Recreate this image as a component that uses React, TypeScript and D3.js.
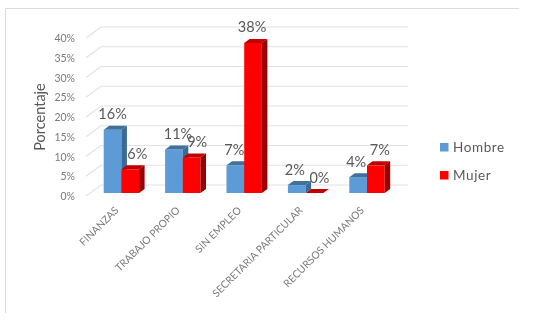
import React from 'react';
import * as d3 from 'd3';

const categories = ['FINANZAS', 'TRABAJO PROPIO', 'SIN EMPLEO', 'SECRETARIA PARTICULAR', 'RECURSOS HUMANOS'];
const seriesNames = ['Hombre', 'Mujer'];
const hombre = [16, 11, 7, 2, 4];
const mujer = [6, 9, 38, 0, 7];
const yTicks = [0, 5, 10, 15, 20, 25, 30, 35, 40];

// hand placed data labels, excel moved these around
const hombreNudge = [0, 4, -1, -2, -2];
const mujerNudge = [7, 5.5, -1, 5, 4];

const colors = {
  Hombre: { front: '#5b9bd5', top: '#41719c', side: '#3a6a94' },
  Mujer: { front: '#ff0000', top: '#c00000', side: '#990000' },
};

const font = 'Lato, "Open Sans", sans-serif';
const textColor = '#595959';
const gridColor = '#e2e2e2';

// 3d depth of the walls and of the bars
const wallDx = 15;
const wallDy = 11;
const barDx = 5.5;
const barDy = 4;

const y = d3.scaleLinear().domain([0, 40]).range([193, 35]);
const x = d3.scaleBand().domain(categories).range([90.5, 397.5]);
const xInner = d3.scaleBand().domain(seriesNames).range([13.2, 48.6]);
const poly = d3.line();

const Bar = ({ cat, name, value }: { cat: string; name: string; value: number }) => {
  const c = colors[name as keyof typeof colors];
  const x0 = (x(cat) as number) + (xInner(name) as number);
  const w = xInner.bandwidth();
  const top = y(value);
  const base = y(0);
  return (
    <g>
      <rect x={x0} y={top} width={w} height={base - top} fill={c.front} />
      <path
        d={poly([[x0, top], [x0 + barDx, top - barDy], [x0 + w + barDx, top - barDy], [x0 + w, top]]) + 'Z'}
        fill={c.top}
      />
      <path
        d={poly([[x0 + w, top], [x0 + w + barDx, top - barDy], [x0 + w + barDx, base - barDy], [x0 + w, base]]) + 'Z'}
        fill={c.side}
      />
    </g>
  );
};

export default function App() {
  const barLabels = categories.flatMap((cat, i) => [
    { key: cat + 'h', v: hombre[i], name: seriesNames[0], cat, nudge: hombreNudge[i] },
    { key: cat + 'm', v: mujer[i], name: seriesNames[1], cat, nudge: mujerNudge[i] },
  ]);

  return (
    <svg
      width={548}
      height={324}
      style={{ position: 'absolute', left: 0, top: 0, background: '#fff' }}
      fontFamily={font}
    >
      {/* the source is a soft screenshot */}
      <defs>
        <filter id="soft" x="0" y="0" width="100%" height="100%">
          <feGaussianBlur stdDeviation={0.35} />
        </filter>
      </defs>
      <g filter="url(#soft)">
        <rect width={548} height={324} fill="#fff" />
        <path d="M5.5,313V8.5H519" fill="none" stroke="#dcdcdc" strokeWidth={1} />

        {yTicks.map((t) => (
          <g key={t}>
            <path
              d={`M${x.range()[0] - 4.5},${y(t) + 3}L${x.range()[0] - 4.5 + wallDx},${y(t) + 3 - wallDy}H408`}
              fill="none"
              stroke={gridColor}
              strokeWidth={1.2}
            />
            <text x={75} y={y(t) + 7} textAnchor="end" fontSize={10.5} fill="#7a7a7a">
              {t}%
            </text>
          </g>
        ))}

        <text
          transform="translate(45,117) rotate(-90)"
          textAnchor="middle"
          fontSize={14.5}
          fill={textColor}
        >
          Porcentaje
        </text>

        {categories.map((cat, i) => (
          <g key={cat}>
            <Bar cat={cat} name={seriesNames[0]} value={hombre[i]} />
            <Bar cat={cat} name={seriesNames[1]} value={mujer[i]} />
            <text
              transform={`translate(${(x(cat) as number) + x.bandwidth() / 2 - 2},211) rotate(-45)`}
              textAnchor="end"
              fontSize={10.3}
              fill="#7a7a7a"
            >
              {cat}
            </text>
          </g>
        ))}

        {barLabels.map((d) => (
          <text
            key={d.key}
            x={(x(d.cat) as number) + (xInner(d.name) as number) + xInner.bandwidth() / 2 + d.nudge}
            y={y(d.v) - 10.5}
            textAnchor="middle"
            fontSize={14.5}
            fill={textColor}
          >
            {d.v}%
          </text>
        ))}

        {seriesNames.map((name, i) => (
          <g key={name} transform={`translate(440,${143 + i * 28})`}>
            <rect width={8.5} height={8.5} fill={colors[name as keyof typeof colors].front} />
            <text x={13} y={9} fontSize={13.5} letterSpacing={0.6} fill={textColor}>
              {name}
            </text>
          </g>
        ))}
      </g>
    </svg>
  );
}
